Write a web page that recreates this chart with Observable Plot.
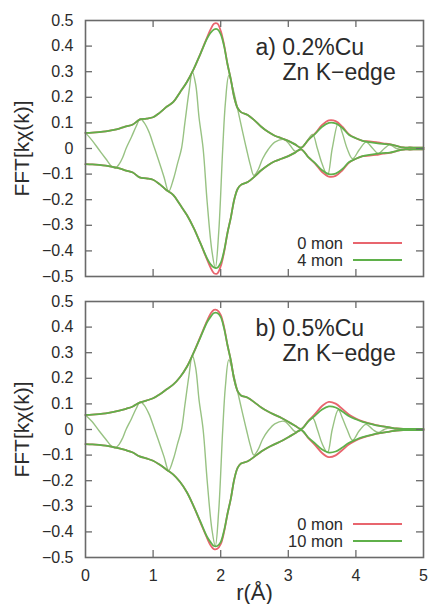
<!DOCTYPE html>
<html><head><meta charset="utf-8">
<script src="https://cdn.jsdelivr.net/npm/d3@7"></script>
<script src="https://cdn.jsdelivr.net/npm/@observablehq/plot@0.6"></script>
<style>body{margin:0;background:#fff} svg{display:block}</style>
</head><body><div id="chart"></div>
<script>
// r grid (Å) for the magnitude envelopes
const rGrid = [0,0.1,0.2,0.3,0.4,0.5,0.6,0.7,0.8,0.9,1.0,1.1,1.2,1.3,1.4,1.5,1.6,1.7,1.8,
  1.85,1.9,1.95,2.0,2.05,2.1,2.15,2.2,2.25,2.3,
  2.4,2.5,2.6,2.7,2.8,2.9,3.0,3.1,
  3.19,
  3.3,3.4,3.5,3.6,3.7,3.8,3.9,4.0,4.1,4.2,4.3,4.4,4.5,4.6,4.7,4.8,4.9,5.0];
// panel a) 0.2%Cu : |FFT| for 0 mon and 4 mon
const magA0 = [0.061,0.062,0.064,0.067,0.072,0.078,0.086,0.094,0.113,0.117,0.122,0.14,0.163,0.182,0.22,0.26,0.31,0.37,0.435,
  0.465,0.487,0.488,0.46,0.405,0.33,0.27,0.20,0.158,0.142,
  0.131,0.11,0.085,0.065,0.05,0.04,0.03,0.016,
  0.003,
  0.035,0.06,0.092,0.11,0.107,0.085,0.055,0.04,0.03,0.028,0.025,0.02,0.017,0.01,0.004,0.004,0.003,0.003];
const magA4 = [0.061,0.062,0.064,0.067,0.072,0.078,0.086,0.094,0.113,0.117,0.122,0.14,0.163,0.182,0.22,0.26,0.31,0.37,0.43,
  0.452,0.465,0.466,0.447,0.40,0.33,0.27,0.20,0.158,0.142,
  0.131,0.11,0.085,0.065,0.05,0.04,0.03,0.016,
  0.003,
  0.035,0.058,0.085,0.10,0.098,0.08,0.053,0.04,0.03,0.025,0.021,0.018,0.016,0.01,0.004,0.004,0.003,0.003];
// panel b) 0.5%Cu : |FFT| for 0 mon and 10 mon
const magB0 = [0.057,0.058,0.06,0.063,0.068,0.074,0.081,0.09,0.105,0.113,0.122,0.138,0.157,0.176,0.205,0.245,0.30,0.363,0.425,
  0.452,0.467,0.466,0.448,0.40,0.33,0.27,0.195,0.15,0.133,
  0.124,0.106,0.086,0.07,0.057,0.045,0.03,0.015,
  0.002,
  0.035,0.062,0.092,0.108,0.101,0.08,0.058,0.043,0.032,0.024,0.017,0.012,0.008,0.004,0.002,0.002,0.002,0.002];
const magB10 = [0.057,0.058,0.06,0.063,0.068,0.074,0.081,0.09,0.105,0.113,0.122,0.138,0.157,0.176,0.205,0.245,0.30,0.36,0.42,
  0.44,0.455,0.455,0.44,0.395,0.33,0.27,0.195,0.15,0.133,
  0.124,0.106,0.086,0.07,0.057,0.045,0.03,0.015,
  0.002,
  0.033,0.055,0.078,0.09,0.086,0.07,0.052,0.04,0.03,0.023,0.016,0.012,0.008,0.004,0.002,0.002,0.002,0.002];
// r grid for the oscillating (real) part
const realR = [0,0.1,0.2,0.3,0.38,0.44,0.5,0.55,0.6,0.68,0.75,0.81,0.87,0.94,1.01,1.08,1.16,1.23,1.3,1.36,
  1.42,1.47,1.53,1.58,1.63,1.68,1.74,1.8,1.87,1.92,1.97,2.03,2.07,2.12,2.18,2.25,2.32,2.38,2.44,2.49,
  2.55,2.62,2.7,2.8,2.94,3.02,3.1,3.19,3.28,3.36,3.43,3.5,3.58,3.65,3.74,3.8,3.87,3.95,4.05,4.15,
  4.25,4.33,4.42,4.5,4.6,4.7,4.8,5.0];
const realA = [0.061,0.031,-0.005,-0.04,-0.068,-0.077,-0.06,-0.035,0.0,0.045,0.087,0.116,0.1,0.064,0.01,-0.045,-0.11,-0.168,-0.12,-0.06,
  0.0,0.10,0.22,0.30,0.25,0.12,0.0,-0.21,-0.40,-0.467,-0.33,0.0,0.18,0.285,0.235,0.155,0.07,0.0,-0.066,-0.105,
  -0.085,-0.04,-0.005,0.025,0.035,0.015,-0.01,0.0,0.03,0.055,0.0,-0.06,-0.105,0.0,0.1,0.06,0.0,-0.04,-0.005,0.025,
  0.0,-0.02,0.0,0.014,0.0,-0.004,0.0,0.0];
const realB = [0.057,0.03,-0.005,-0.038,-0.064,-0.072,-0.057,-0.033,0.0,0.042,0.082,0.108,0.094,0.06,0.01,-0.043,-0.105,-0.16,-0.115,-0.057,
  0.0,0.095,0.21,0.29,0.24,0.115,0.0,-0.2,-0.39,-0.455,-0.32,0.0,0.17,0.272,0.225,0.148,0.067,0.0,-0.064,-0.1,
  -0.08,-0.038,-0.005,0.022,0.032,0.014,-0.008,0.0,0.028,0.045,0.0,-0.055,-0.09,0.0,0.077,0.045,0.0,-0.042,-0.005,0.02,
  0.0,-0.012,0.0,0.006,0.0,-0.002,0.0,0.0];

const xTicks = [0,1,2,3,4,5];
const xInnerTicks = [1,2,3,4];
const yTicks = [-0.5,-0.4,-0.3,-0.2,-0.1,0,0.1,0.2,0.3,0.4,0.5];
const yInnerTicks = [-0.4,-0.3,-0.2,-0.1,0,0.1,0.2,0.3,0.4];

const panels = [
  {title: "a) 0.2%Cu", sub: "Zn K\u2212edge", m0: magA0, m1: magA4, re: realA, labels: ["0 mon", "4 mon"]},
  {title: "b) 0.5%Cu", sub: "Zn K\u2212edge", m0: magB0, m1: magB10, re: realB, labels: ["0 mon", "10 mon"]}
];

const RED = "#e8656e", GREEN = "#5fb04a", THIN = "#98c283", AXIS = "#6a6a6a", INK = "#2b2b2b";
const FONT = "'Liberation Sans', Arial, Helvetica, sans-serif";
const fmt = d => d === 0 ? "0" : d3.format(".1f")(d);

function legend(labels) {
  return (index, scales, values, dims) => {
    const g = d3.create("svg:g");
    const right = dims.width - dims.marginRight;
    const bottom = dims.height - dims.marginBottom;
    [RED, GREEN].forEach((c, i) => {
      const y = bottom - 33 + i * 17;
      g.append("text").attr("x", right - 80).attr("y", y).attr("dy", "0.35em")
        .attr("text-anchor", "end").attr("font-size", 16.5).attr("fill", INK).text(labels[i]);
      g.append("line").attr("x1", right - 70).attr("x2", right - 21).attr("y1", y).attr("y2", y)
        .attr("stroke", c).attr("stroke-width", 1.8);
    });
    return g.node();
  };
}

function panel(p, bottomPanel) {
  const env0 = rGrid.map((r, i) => ({r, v: p.m0[i]}));
  const env1 = rGrid.map((r, i) => ({r, v: p.m1[i]}));
  const re = realR.map((r, i) => ({r, v: p.re[i]}));
  const H = bottomPanel ? 314 : 290;
  const mt = bottomPanel ? 11 : 20;
  const mb = bottomPanel ? 47 : 14;
  const fw = 432 - 85 - 9, fh = H - mt - mb;
  const marks = [
    Plot.line(re, {x: "r", y: "v", stroke: THIN, strokeWidth: 1.4, curve: "catmull-rom"}),
    Plot.line(env0, {x: "r", y: "v", stroke: RED, strokeWidth: 1.8, curve: "catmull-rom"}),
    Plot.line(env0, {x: "r", y: d => -d.v, stroke: RED, strokeWidth: 1.8, curve: "catmull-rom"}),
    Plot.line(env1, {x: "r", y: "v", stroke: GREEN, strokeWidth: 1.8, curve: "catmull-rom"}),
    Plot.line(env1, {x: "r", y: d => -d.v, stroke: GREEN, strokeWidth: 1.8, curve: "catmull-rom"}),
    Plot.tickX(xInnerTicks, {x: d => d, insetTop: fh - 7, stroke: AXIS, strokeWidth: 1.3}),
    Plot.tickX(xInnerTicks, {x: d => d, insetBottom: fh - 7, stroke: AXIS, strokeWidth: 1.3}),
    Plot.tickY(yInnerTicks, {y: d => d, insetRight: fw - 7, stroke: AXIS, strokeWidth: 1.3}),
    Plot.tickY(yInnerTicks, {y: d => d, insetLeft: fw - 7, stroke: AXIS, strokeWidth: 1.3}),
    Plot.frame({stroke: AXIS, strokeWidth: 1.6}),
    Plot.axisY(yTicks, {tickSize: 0, tickPadding: 12, tickFormat: fmt, fontSize: 16, fill: INK, label: null}),
    Plot.text([p.title], {text: d => d, frameAnchor: "top-left", dx: 170, dy: 34, textAnchor: "start", lineAnchor: "bottom", fontSize: 23, fill: INK}),
    Plot.text([p.sub], {text: d => d, frameAnchor: "top-left", dx: 197, dy: 59, textAnchor: "start", lineAnchor: "bottom", fontSize: 23, fill: INK}),
    Plot.text(["FFT[k\u03c7(k)]"], {text: d => d, frameAnchor: "left", dx: -63, rotate: -90, textAnchor: "middle", lineAnchor: "middle", fontSize: 21, fill: INK}),
    legend(p.labels)
  ];
  if (bottomPanel) {
    marks.push(Plot.axisX(xTicks, {tickSize: 0, tickPadding: 12, fontSize: 16, fill: INK, label: null}));
    marks.push(Plot.text(["r(\u00c5)"], {text: d => d, frameAnchor: "bottom", dy: 35, lineAnchor: "middle", fontSize: 22, fill: INK}));
  }
  return Plot.plot({
    width: 432, height: H,
    marginLeft: 85, marginRight: 9, marginTop: mt, marginBottom: mb,
    x: {domain: [0, 5], label: null, axis: bottomPanel ? undefined : null},
    y: {domain: [-0.5, 0.5], label: null},
    style: {fontFamily: FONT, fontSize: "16px", color: INK, background: "white", overflow: "visible"},
    marks
  });
}

const root = document.getElementById("chart");
root.appendChild(panel(panels[0], false));
root.appendChild(panel(panels[1], true));
</script>
</body></html>
